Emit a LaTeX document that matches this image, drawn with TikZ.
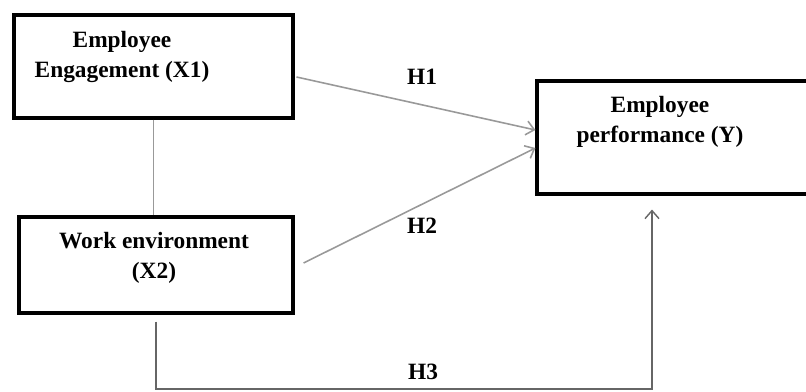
\documentclass[tikz,border=0pt]{standalone}
\usepackage{fontspec}
\setmainfont{Liberation Serif}
\usetikzlibrary{arrows.meta,positioning,calc}

\begin{document}
\begin{tikzpicture}[x=0.02cm, y=-0.02cm, >={Straight Barb[length=1.6mm,width=2.8mm]},
  every node/.style={align=center, font=\fontsize{13.3}{17}\selectfont\bfseries},
  box/.style={draw, line width=1.8pt, inner sep=0pt},
  link/.style={draw=black!40, line width=0.9pt}]
\useasboundingbox (0,0) rectangle (806,392);
% boxes
\node[box,minimum width=5.58cm,minimum height=2.06cm] (x1) at (153.5,66.5) {};
\node[box,minimum width=5.48cm,minimum height=1.92cm] (x2) at (156,265) {};
\node[box,minimum width=5.86cm,minimum height=2.26cm] (y) at (683.5,137.5) {};
\node (x1txt) at (122,57) {Employee\\Engagement (X1)};
\node (x2txt) at (154,258) {Work environment\\(X2)};
\node (ytxt) at (660,122) {Employee\\performance (Y)};
% hypothesis labels
\node (h1) at (422,77) {H1};
\node (h2) at (422,226) {H2};
\node (h3) at (423,372) {H3};
\coordinate (h3c) at (652,389);
% connectors
\draw[link] (x1.south) -- (x1.south |- x2.north);
\draw[link,->] ([xshift=0.04cm,yshift=-0.21cm]x1.east) -- ([yshift=0.15cm]y.west);
\draw[link,->] ([xshift=0.18cm,yshift=0.04cm]x2.east) -- ([yshift=-0.21cm]y.west);
\draw[link,draw=black!60,line width=0.8pt,->,shorten <=0.14cm,shorten >=0.28cm] (x2.south) |- (h3c) -- (h3c |- y.south);
\end{tikzpicture}
\end{document}
